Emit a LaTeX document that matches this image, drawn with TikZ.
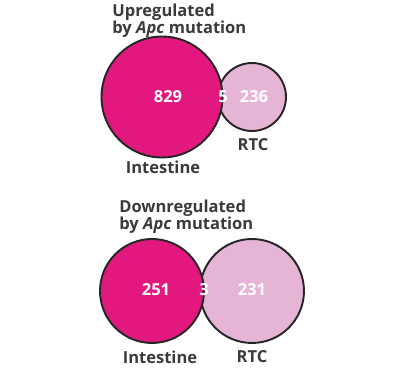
\documentclass[tikz,border=0pt]{standalone}
\usepackage{fontspec}
\setmainfont{Open Sans}
\usetikzlibrary{positioning}

\definecolor{apcmagenta}{HTML}{E3187F}
\definecolor{apcpink}{HTML}{E6B5D5}
\definecolor{apctext}{HTML}{3A3A3A}

\tikzset{
  setcirc/.style={circle, draw=black!85, line width=1.1pt, inner sep=0pt},
  heading/.style={align=left, anchor=north west, text=apctext, font=\fontsize{9.4}{9.6}\selectfont\bfseries, inner sep=0pt},
  count/.style={text=white, font=\fontsize{9.4}{10}\selectfont\bfseries, inner sep=0pt},
  setname/.style={text=apctext, font=\fontsize{9.4}{10}\selectfont\bfseries, inner sep=0pt}
}

\begin{document}
\begin{tikzpicture}[x=0.02cm, y=-0.02cm]
  \useasboundingbox (0,0) rectangle (400,374);

  % upregulated
  \node[heading] (uphead) at (112,4) {Upregulated\\by \textit{Apc} mutation};
  \node[setcirc, fill=apcpink, minimum size=1.36cm] (rtcUp) at (252,97) {};
  \node[setcirc, fill=apcmagenta, minimum size=2.42cm] (intUp) at (162,97) {};
  \node[count] (nIntUp) at (168,97) {829};
  \node[count] (nBothUp) at (223,97) {5};
  \node[count] (nRtcUp) at (254,97) {236};
  \node[setname] (labRtcUp) at (253,145) {RTC};
  \node[setname] (labIntUp) at (163,167) {Intestine};

  % downregulated
  \node[heading] (downhead) at (119,200) {Downregulated\\by \textit{Apc} mutation};
  \node[setcirc, fill=apcpink, minimum size=2.08cm] (rtcDown) at (252,291) {};
  \node[setcirc, fill=apcmagenta, minimum size=2.08cm] (intDown) at (152,291) {};
  \node[count] (nIntDown) at (156,290) {251};
  \node[count] (nBothDown) at (204,290) {3};
  \node[count] (nRtcDown) at (252,290) {231};
  \node[setname] (labIntDown) at (160,357) {Intestine};
  \node[setname] (labRtcDown) at (252,357) {RTC};
\end{tikzpicture}
\end{document}
